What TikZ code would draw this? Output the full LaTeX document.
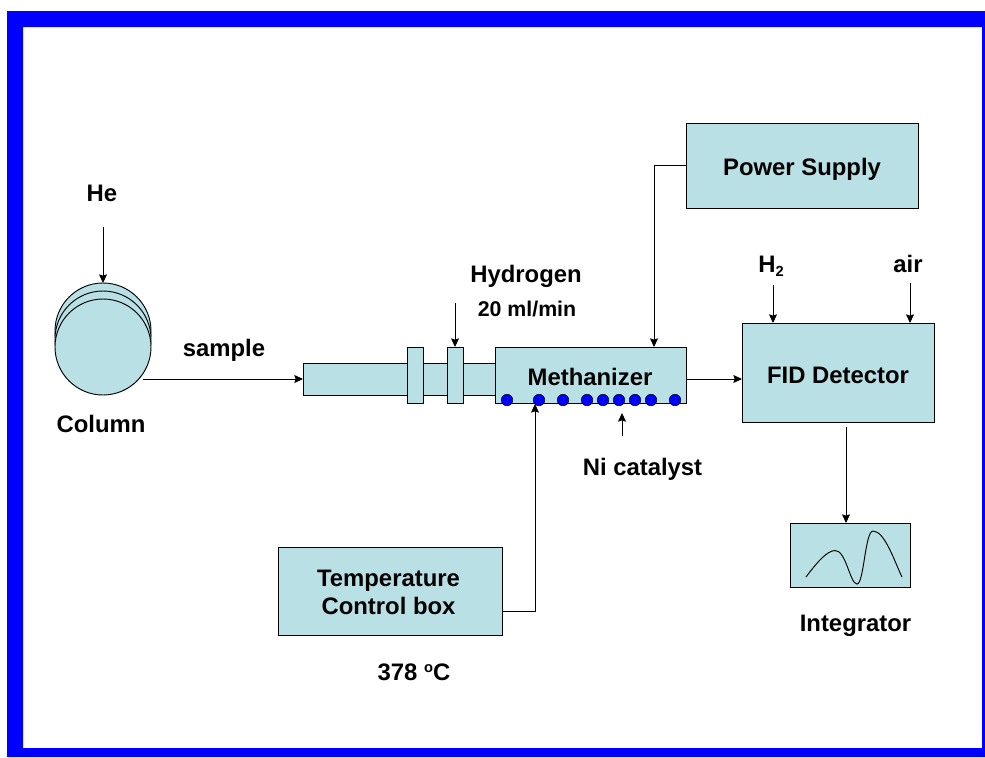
\documentclass[tikz,border=0pt]{standalone}
\usepackage{fontspec}
\setmainfont{Liberation Sans}
\usetikzlibrary{arrows.meta}
\definecolor{boxfill}{RGB}{184,224,229}
\definecolor{frameblue}{RGB}{0,0,255}
\tikzset{
  x=0.75pt,y=-0.75pt,
  partbox/.style={draw=black,fill=boxfill,line width=0.7pt,inner sep=0pt,outer sep=0pt},
  lbl/.style={inner sep=0pt,font=\bfseries\fontsize{17.9}{21}\selectfont,align=center},
  lblsmall/.style={inner sep=0pt,font=\bfseries\fontsize{16}{19}\selectfont},
  conn/.style={draw=black,line width=0.7pt,-{Stealth[length=6.5pt,width=6pt,inset=1pt]}},
  dot/.style={circle,draw=black,fill=frameblue,line width=0.4pt,minimum size=8.6pt,inner sep=0pt},
  coil/.style={circle,draw=black,fill=boxfill,line width=0.7pt,minimum size=72pt,inner sep=0pt,outer sep=0pt}
}
\newcommand{\pxbox}[6][]{\node[partbox,#1,minimum width=#4*0.75pt,minimum height=#5*0.75pt] (#2) at (#3) {#6};}
\newcommand{\smallsub}[1]{\raisebox{-3.2pt}{\fontsize{11}{11}\selectfont #1}}
\newcommand{\smallsup}[1]{\raisebox{6pt}{\fontsize{11}{11}\selectfont #1}}
\begin{document}
\begin{tikzpicture}
\useasboundingbox (0,0) rectangle (985,757);
\fill[white] (0,0) rectangle (985,757);
\fill[frameblue,even odd rule] (7,11) rectangle (985,757) (23,27) rectangle (982,748);

% column
\node[coil] (coilA) at (103,331) {};
\node[coil] (coilB) at (103,339) {};
\node[coil] (coilC) at (103,347) {};

% tube, flanges and methanizer
\pxbox{tube}{399,379}{192}{32}{}
\pxbox{flangeA}{415,375}{16}{56}{}
\pxbox{flangeB}{455,375}{16}{56}{}
\pxbox{meth}{590.5,375}{191}{56}{}
\node[lbl] (methlabel) at (590,377) {Methanizer};
\foreach \i/\px in {1/507,2/539,3/563,4/587,5/603,6/619,7/635,8/651,9/675}
  \node[dot] (d\i) at (\px,400) {};

% other boxes
\pxbox{power}{802,165.5}{232}{85}{}
\node[lbl] (powerlabel) at (802,169) {Power Supply};
\pxbox{fid}{838,372.5}{192}{99}{}
\node[lbl] (fidlabel) at (838,375) {FID Detector};
\pxbox{temp}{390,591}{224}{88}{}
\node[lbl] (templabel) at (388.5,592) {Temperature\\Control box};
\pxbox{integ}{850,555}{120}{64}{}
\draw[line width=0.7pt] (806,577) .. controls (818,561) and (827,551) .. (835,550.5)
  .. controls (846,550) and (850,584) .. (857,584)
  .. controls (864,584) and (865,531) .. (873,531)
  .. controls (885,531) and (895,563) .. (902,577);

% labels
\node[lbl] (helabel) at (102,193) {He};
\node[lbl] (columnlabel) at (101,424) {Column};
\node[lbl] (samplelabel) at (224,350) {sample};
\node[lbl] (hydrogenlabel) at (526,276) {Hydrogen};
\node[lblsmall] (ratelabel) at (527,308.5) {20 ml/min};
\node[lbl] (h2label) at (771,266) {H\smallsub{2}};
\node[lbl] (airlabel) at (908,264) {air};
\node[lbl] (nilabel) at (642.5,469) {Ni catalyst};
\node[lbl] (integlabel) at (855.5,626) {Integrator};
\node[lbl] (templevel) at (414,672.5) {378 \smallsup{o}C};

% free ends
\coordinate (heend) at (103,227);
\coordinate (sampleout) at (143,379);
\coordinate (hydrogenend) at (455,303);
\coordinate (h2end) at (773,285);
\coordinate (airend) at (910,283);
\coordinate (niend) at (622,436);
\coordinate (nitip) at (622,413);
\coordinate (fidout) at (846,427);
\coordinate (methtop) at (654,347);
\coordinate (methbottom) at (535,404);

% connectors
\draw[conn] (heend) -- (coilA.north);
\draw[conn] (sampleout) -- (tube.west);
\draw[conn] (hydrogenend) -- (flangeB.north);
\draw[conn] (power.west) -| (methtop);
\draw[conn] (temp.east |- 502,611) -| (methbottom);
\draw[conn] (niend) -- (nitip);
\draw[conn] (meth.east |- 0,379) -- (fid.west |- 0,379);
\draw[conn] (h2end) -- (fid.north -| h2end);
\draw[conn] (airend) -- (fid.north -| airend);
\draw[conn] (fidout) -- (integ.north -| fidout);
\end{tikzpicture}
\end{document}
